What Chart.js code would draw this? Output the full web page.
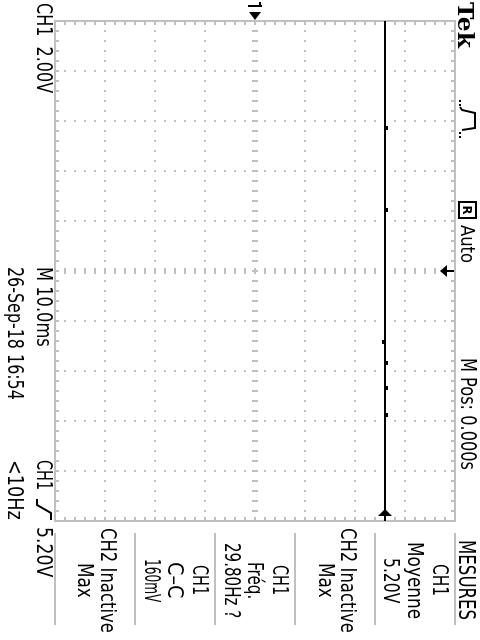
<!DOCTYPE html>
<html><head><meta charset="utf-8">
<script src="https://cdn.jsdelivr.net/npm/chart.js@4"></script>
<style>
html,body{margin:0;padding:0;background:#fff;width:480px;height:640px;overflow:hidden}
#scope{position:absolute;left:0;top:0;width:640px;height:480px;transform-origin:0 0;transform:translate(480px,0) rotate(90deg);background:#fff}
#scope canvas{position:absolute;left:0;top:0}
.lbl{position:absolute;white-space:pre;color:#000;transform-origin:0 0}
.rbox{position:absolute;border:2px solid #000;box-sizing:border-box;text-align:center;color:#000}
</style></head><body>
<div id="scope"><canvas id="c" width="640" height="480"></canvas></div>
<script>
// ---------- data (CH1 trace, time in ms, volts) ----------
const timeMs   = [-50, -28.8, -28.4, -12.4, -12.0, 14.0, 14.4, 18.2, 18.6, 23.2, 23.6, 28.6, 29.0, 50];
const ch1Volts = [5.2, 5.28, 5.2, 5.28, 5.2, 5.12, 5.2, 5.28, 5.2, 5.28, 5.2, 5.28, 5.2, 5.2];
// graticule divisions (10 ms/div horizontally, 2 V/div vertically)
const timeDivs = [-50, -40, -30, -20, -10, 0, 10, 20, 30, 40, 50];
const voltDivs = [-8, -6, -4, -2, 0, 2, 4, 6, 8];
const groundLevel = 0;
const triggerLevel = 5.2;
const triggerTime = 0;
// on-screen readouts
const headerTexts = ['Tek', 'Auto', 'M Pos: 0.000s', 'MESURES'];
const footerTexts = ['CH1  2.00V', 'M 10.0ms', 'CH1', '5.20V', '26-Sep-18 16:54', '<10Hz'];
const measureCol1 = ['CH1', 'Moyenne', '5.20V'];
const measureCol2 = ['CH2 Inactive', 'Max'];
const measureCol3 = ['CH1', 'Fréq.', '29.80Hz ?'];
const measureCol4 = ['CH1', 'C–C', '160mV'];
const measureCol5 = ['CH2 Inactive', 'Max'];

const GRID = '#c0c0c0';

const graticule = {
  id: 'graticule',
  beforeDatasetsDraw(chart) {
    const {ctx, chartArea: a, scales: {x, y}} = chart;
    ctx.save();
    ctx.fillStyle = GRID;
    const xMinor = [], yMinor = [];
    for (let i = 0; i < timeDivs.length - 1; i++)
      for (let k = 0; k < 5; k++) xMinor.push(Math.round(x.getPixelForValue(timeDivs[i] + (timeDivs[i+1]-timeDivs[i]) * k / 5)));
    xMinor.push(Math.round(x.getPixelForValue(timeDivs[timeDivs.length-1])));
    for (let i = 0; i < voltDivs.length - 1; i++)
      for (let k = 0; k < 5; k++) yMinor.push(Math.round(y.getPixelForValue(voltDivs[i] + (voltDivs[i+1]-voltDivs[i]) * k / 5)));
    yMinor.push(Math.round(y.getPixelForValue(voltDivs[voltDivs.length-1])));
    // dotted division lines
    timeDivs.slice(1, -1).forEach(t => {
      if (t === 0) return;
      const px = Math.round(x.getPixelForValue(t));
      yMinor.forEach(py => ctx.fillRect(px - 1, py - 1, 2, 2));
    });
    voltDivs.slice(1, -1).forEach(v => {
      if (v === 0) return;
      const py = Math.round(y.getPixelForValue(v));
      xMinor.forEach(px => ctx.fillRect(px - 1, py - 1, 2, 2));
    });
    // centre axes with small dashes
    const cx = Math.round(x.getPixelForValue(0)), cy = Math.round(y.getPixelForValue(0));
    yMinor.forEach(py => ctx.fillRect(cx - 3, py - 1, 6, 2));
    xMinor.forEach(px => ctx.fillRect(px - 1, cy - 3, 2, 6));
    // border
    const L = Math.round(a.left), R = Math.round(a.right), T = Math.round(a.top), B = Math.round(a.bottom);
    ctx.fillRect(L - 1, T - 1, R - L + 2, 2);
    ctx.fillRect(L - 1, B - 1, R - L + 2, 2);
    ctx.fillRect(L - 1, T - 1, 2, B - T + 2);
    ctx.fillRect(R - 1, T - 1, 2, B - T + 2);
    // border ticks
    xMinor.forEach(px => { ctx.fillRect(px - 1, T, 2, 4); ctx.fillRect(px - 1, B - 4, 2, 4); });
    yMinor.forEach(py => { ctx.fillRect(L, py - 1, 4, 2); ctx.fillRect(R - 4, py - 1, 4, 2); });
    // measurement menu separators
    [25, 105, 185, 265, 345, 425].forEach(sy => ctx.fillRect(533, sy - 1, 92, 2));
    ctx.restore();
  },
  afterDraw(chart) {
    const {ctx, chartArea: a, scales: {x, y}} = chart;
    ctx.save();
    ctx.fillStyle = '#000';
    ctx.strokeStyle = '#000';
    // ground marker "1 ->"
    const gy = Math.round(y.getPixelForValue(groundLevel));
    ctx.fillRect(5, gy - 7, 2, 14);
    ctx.fillRect(2, gy - 6, 4, 2);
    ctx.beginPath(); ctx.moveTo(12, gy - 6); ctx.lineTo(12, gy + 6); ctx.lineTo(20, gy); ctx.closePath(); ctx.fill();
    // trigger position marker
    const tx = Math.round(x.getPixelForValue(triggerTime));
    ctx.fillRect(tx - 1, a.top + 1, 2, 9);
    ctx.beginPath(); ctx.moveTo(tx - 6, a.top + 8); ctx.lineTo(tx + 6, a.top + 8); ctx.lineTo(tx, a.top + 15); ctx.closePath(); ctx.fill();
    // trigger level marker
    const ty = Math.round(y.getPixelForValue(triggerLevel));
    ctx.beginPath(); ctx.moveTo(a.right - 5, ty - 7); ctx.lineTo(a.right - 5, ty + 7); ctx.lineTo(a.right - 12, ty); ctx.closePath(); ctx.fill();
    // acquisition (sample) icon
    ctx.lineWidth = 2;
    [100, 104].forEach(px => ctx.fillRect(px, 19, 2, 2));
    [132, 136].forEach(px => ctx.fillRect(px, 19, 2, 2));
    ctx.beginPath(); ctx.moveTo(107, 20); ctx.lineTo(110, 18); ctx.lineTo(113, 5); ctx.lineTo(128, 5); ctx.lineTo(130, 18); ctx.stroke();
    // rising edge trigger symbol
    ctx.beginPath(); ctx.moveTo(499, 443); ctx.lineTo(505, 443); ctx.lineTo(513, 429); ctx.lineTo(520, 429); ctx.stroke();
    ctx.restore();
  }
};

new Chart(document.getElementById('c'), {
  type: 'line',
  data: {
    datasets: [{
      label: 'CH1',
      data: timeMs.map((t, i) => ({x: t, y: ch1Volts[i]})),
      borderColor: '#000',
      borderWidth: 2,
      pointRadius: 0,
      stepped: true,
      fill: false
    }]
  },
  options: {
    responsive: false,
    animation: false,
    devicePixelRatio: 1,
    layout: {padding: {left: 21, right: 119, top: 25, bottom: 55}},
    scales: {
      x: {type: 'linear', min: timeDivs[0], max: timeDivs[timeDivs.length-1], display: false},
      y: {type: 'linear', min: voltDivs[0], max: voltDivs[voltDivs.length-1], display: false}
    },
    plugins: {legend: {display: false}, tooltip: {enabled: false}}
  },
  plugins: [graticule]
});

// ---------- readouts as real text ----------
const scope = document.getElementById('scope');
const SANS = '"DejaVu Sans Condensed","DejaVu Sans",sans-serif';
const SERIF = '"DejaVu Serif","Liberation Serif",serif';
function place(text, left, capTop, w, cap, family, bold) {
  const fs = cap / 0.729;
  const s = document.createElement('span');
  s.className = 'lbl';
  s.textContent = text;
  s.style.font = (bold ? 'bold ' : '') + fs.toFixed(2) + 'px ' + (family || SANS);
  s.style.lineHeight = fs.toFixed(2) + 'px';
  s.style.left = left + 'px';
  s.style.top = (capTop - 0.117 * fs) + 'px';
  scope.appendChild(s);
  const mw = s.offsetWidth;
  if (w && mw) s.style.transform = 'scaleX(' + (w / mw).toFixed(4) + ')';
  return s;
}
function placeC(text, center, capTop, w, cap) { return place(text, center - w / 2, capTop, w, cap); }

// header
place(headerTexts[0], 2, 7, 46, 16, SERIF, true);
const rb = document.createElement('div');
rb.className = 'rbox';
rb.style.cssText += 'left:201px;top:3px;width:18px;height:19px;font:bold 13px ' + SANS + ';line-height:15px;';
rb.textContent = 'R';
scope.appendChild(rb);
place(headerTexts[1], 225, 5, 38, 14);
place(headerTexts[2], 358, 4, 112, 15);
place(headerTexts[3], 540, 4, 80, 17);
// footer
place(footerTexts[0], 3, 428, 90, 16);
place(footerTexts[1], 267, 428, 80, 16);
place(footerTexts[2], 460, 428, 30, 16);
place(footerTexts[3], 527, 428, 50, 16);
place(footerTexts[4], 267, 457, 133, 16);
place(footerTexts[5], 460, 457, 60, 16);
// measurement menu
const C = 580;
placeC(measureCol1[0], C, 32, 32, 16);
placeC(measureCol1[1], C, 57, 77, 16);
placeC(measureCol1[2], C, 81, 45, 16);
placeC(measureCol2[0], C, 124, 105, 16);
placeC(measureCol2[1], C, 146, 35, 16);
placeC(measureCol3[0], C, 192, 30, 16);
placeC(measureCol3[1], C, 217, 37, 16);
placeC(measureCol3[2], C, 240, 75, 16);
placeC(measureCol4[0], C, 272, 30, 16);
placeC(measureCol4[1], C, 297, 36, 16);
placeC(measureCol4[2], C, 320, 43, 16);
placeC(measureCol5[0], C, 364, 105, 16);
placeC(measureCol5[1], C, 387, 35, 16);
</script>
</body></html>
